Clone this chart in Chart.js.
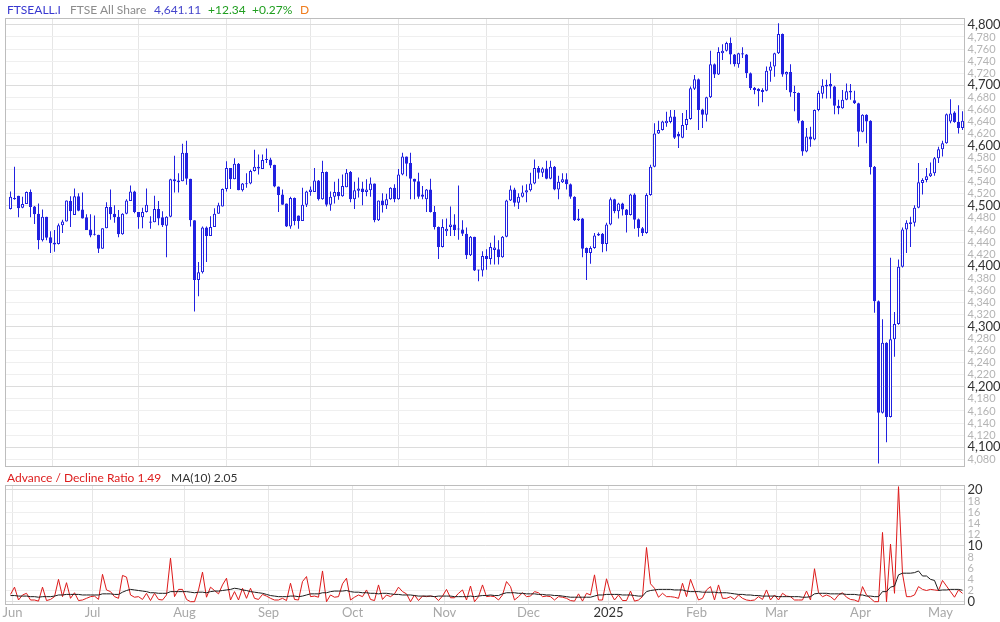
<!DOCTYPE html>
<html>
<head>
<meta charset="utf-8">
<script src="https://cdn.jsdelivr.net/npm/chart.js@4.4.1/dist/chart.umd.min.js"></script>
<style>
  body { margin: 0; background: #fff; font-family: Lato, sans-serif; }
  #wrap { position: relative; width: 1000px; height: 622px; overflow: hidden; }
  canvas { position: absolute; left: 0; }
  .lbl { position: absolute; font-size: 12px; line-height: 14px; white-space: nowrap; }
</style>
</head>
<body>
<div id="wrap">
  <canvas id="priceChart" width="1000" height="470" style="top:0"></canvas>
  <canvas id="breadthChart" width="1000" height="152" style="top:470px"></canvas>

  <span class="lbl" style="left:7px;top:3px;color:#3838d0">FTSEALL.I</span>
  <span class="lbl" style="left:70px;top:3px;color:#8c8c8c">FTSE All Share</span>
  <span class="lbl" style="left:154px;top:3px;color:#4646cc">4,641.11</span>
  <span class="lbl" style="left:208px;top:3px;color:#1f9e1f">+12.34</span>
  <span class="lbl" style="left:252px;top:3px;color:#1f9e1f">+0.27%</span>
  <span class="lbl" style="left:300px;top:3px;color:#f07d1e">D</span>

  <span class="lbl" style="left:7px;top:471px;color:#dd1c1c">Advance / Decline Ratio 1.49</span>
  <span class="lbl" style="left:171px;top:471px;color:#333">MA(10) 2.05</span>
</div>

<script>
// daily candles, 31 May 2024 .. 9 May 2025 (index = trading day)
const opens = [
  4495,4511,4517,4497,4503,4523,4499,4487,4443,4482,
  4448,4439,4437,4468,4474,4508,4485,4516,4494,4481,
  4461,4452,4452,4429,4463,4498,4487,4482,4453,4487,
  4508,4524,4490,4481,4490,4474,4473,4495,4481,4467,
  4482,4544,4542,4541,4588,4545,4476,4377,4390,4464,
  4450,4465,4487,4499,4528,4563,4544,4570,4526,4537,
  4537,4558,4562,4561,4576,4577,4568,4532,4519,4504,
  4466,4513,4484,4475,4502,4523,4523,4542,4511,4556,
  4502,4515,4523,4516,4531,4556,4511,4525,4529,4523,
  4526,4537,4476,4509,4501,4511,4530,4511,4552,4582,
  4571,4545,4541,4519,4511,4527,4490,4465,4432,4458,
  4465,4469,4461,4461,4454,4418,4449,4393,4393,4417,
  4412,4427,4428,4415,4449,4509,4527,4505,4515,4522,
  4526,4537,4563,4555,4562,4545,4565,4527,4539,4544,
  4536,4515,4476,4479,4430,4422,4430,4451,4454,4437,
  4469,4511,4491,4504,4494,4485,4519,4478,4463,4455,
  4518,4565,4620,4626,4637,4639,4648,4619,4613,4634,
  4644,4694,4710,4660,4651,4680,4735,4718,4753,4757,
  4770,4751,4735,4751,4751,4720,4696,4694,4689,4691,
  4724,4731,4753,4785,4718,4722,4689,4687,4641,4590,
  4615,4610,4659,4686,4698,4702,4698,4666,4662,4676,
  4688,4675,4670,4623,4651,4641,4565,4342,4157,4273,
  4150,4279,4304,4399,4461,4470,4472,4497,4538,4543,
  4549,4554,4579,4594,4604,4640,4655,4639,4629
];
const highs = [
  4524,4565,4517,4515,4524,4527,4500,4504,4494,4482,
  4458,4460,4471,4477,4509,4516,4529,4521,4522,4486,
  4486,4484,4452,4463,4506,4527,4501,4493,4488,4511,
  4534,4525,4490,4497,4529,4483,4517,4508,4491,4483,
  4545,4583,4554,4603,4608,4545,4476,4407,4466,4466,
  4483,4496,4505,4529,4574,4563,4579,4571,4538,4554,
  4560,4593,4585,4585,4595,4580,4568,4532,4527,4504,
  4515,4514,4484,4530,4525,4532,4563,4543,4575,4557,
  4524,4540,4545,4552,4561,4558,4540,4547,4540,4544,
  4547,4537,4509,4521,4520,4531,4536,4561,4588,4582,
  4588,4545,4555,4533,4528,4545,4500,4466,4478,4479,
  4499,4486,4534,4476,4464,4450,4449,4394,4425,4428,
  4439,4451,4443,4450,4510,4534,4530,4521,4534,4536,
  4555,4577,4566,4564,4575,4575,4566,4550,4554,4554,
  4537,4516,4495,4480,4431,4433,4455,4456,4455,4472,
  4514,4512,4505,4505,4495,4520,4521,4479,4465,4521,
  4568,4637,4641,4641,4656,4659,4659,4623,4654,4659,
  4698,4717,4711,4661,4681,4757,4736,4763,4768,4772,
  4779,4752,4754,4763,4752,4721,4697,4695,4695,4731,
  4739,4754,4803,4786,4723,4735,4699,4688,4642,4629,
  4631,4660,4691,4710,4709,4720,4699,4676,4692,4703,
  4702,4691,4671,4652,4652,4642,4566,4343,4312,4274,
  4414,4324,4411,4464,4476,4482,4501,4571,4546,4563,
  4572,4581,4598,4608,4653,4677,4657,4667,4657
];
const lows = [
  4494,4510,4481,4496,4503,4481,4470,4428,4441,4443,
  4422,4424,4436,4455,4474,4465,4485,4491,4479,4460,
  4448,4451,4422,4429,4463,4477,4472,4448,4452,4486,
  4508,4488,4462,4463,4489,4462,4473,4468,4465,4415,
  4481,4522,4522,4541,4535,4466,4325,4350,4388,4407,
  4450,4465,4487,4499,4524,4528,4544,4526,4524,4530,
  4536,4557,4552,4561,4571,4563,4531,4490,4502,4465,
  4462,4468,4462,4475,4498,4517,4523,4509,4510,4499,
  4492,4504,4510,4515,4531,4506,4495,4514,4501,4516,
  4515,4473,4475,4489,4495,4510,4506,4510,4551,4549,
  4511,4511,4512,4511,4490,4489,4461,4412,4431,4450,
  4450,4450,4444,4450,4412,4417,4392,4375,4383,4394,
  4403,4403,4403,4414,4448,4508,4499,4495,4514,4506,
  4524,4536,4545,4548,4544,4544,4526,4511,4538,4527,
  4512,4475,4475,4415,4377,4404,4429,4450,4423,4425,
  4468,4488,4479,4484,4456,4484,4462,4449,4450,4454,
  4517,4564,4619,4625,4631,4637,4611,4596,4612,4626,
  4643,4692,4626,4629,4640,4679,4712,4717,4742,4756,
  4735,4731,4729,4745,4712,4692,4685,4665,4672,4690,
  4706,4714,4752,4714,4692,4681,4657,4637,4583,4589,
  4598,4609,4657,4678,4678,4678,4652,4652,4661,4675,
  4676,4669,4598,4622,4604,4552,4323,4073,4156,4108,
  4149,4250,4303,4398,4422,4432,4466,4496,4519,4539,
  4548,4550,4571,4582,4603,4637,4638,4620,4626
];
const closes = [
  4515,4513,4496,4503,4523,4498,4486,4443,4482,4447,
  4438,4436,4468,4474,4509,4491,4516,4492,4479,4460,
  4451,4452,4429,4463,4498,4486,4481,4453,4487,4509,
  4524,4490,4481,4490,4502,4472,4495,4479,4468,4482,
  4544,4541,4539,4588,4545,4476,4377,4390,4464,4450,
  4465,4487,4501,4528,4563,4544,4570,4526,4537,4536,
  4558,4565,4565,4576,4577,4567,4532,4518,4502,4466,
  4513,4475,4475,4502,4524,4527,4542,4511,4556,4502,
  4515,4523,4516,4533,4555,4511,4526,4529,4523,4527,
  4537,4476,4509,4501,4511,4530,4511,4552,4582,4570,
  4545,4540,4515,4515,4527,4490,4465,4432,4465,4462,
  4469,4460,4461,4454,4418,4449,4393,4393,4417,4412,
  4432,4431,4415,4449,4509,4527,4505,4515,4522,4526,
  4537,4563,4555,4562,4545,4565,4527,4540,4544,4536,
  4515,4476,4479,4429,4422,4430,4451,4454,4437,4469,
  4511,4491,4504,4494,4485,4519,4477,4463,4455,4518,
  4565,4620,4626,4640,4641,4648,4613,4615,4634,4644,
  4695,4710,4659,4651,4680,4735,4718,4755,4757,4770,
  4751,4735,4753,4753,4720,4695,4692,4690,4692,4724,
  4731,4753,4785,4718,4722,4688,4687,4641,4590,4615,
  4610,4659,4687,4699,4701,4698,4666,4662,4676,4690,
  4691,4670,4623,4651,4640,4564,4342,4157,4273,4150,
  4279,4304,4399,4461,4472,4473,4497,4539,4543,4549,
  4554,4579,4594,4604,4652,4653,4639,4629,4641
];

// advance / decline ratio and its 10 day average
const adRatio = [
  1.3,2.6,0.3,1.2,1.5,0.3,0.3,0.1,2.6,0.2,
  0.4,0.9,4.0,0.9,3.4,0.6,1.6,0.2,0.3,0.6,
  0.9,1.0,0.4,4.9,2.1,1.8,0.9,0.6,4.7,4.4,
  1.2,0.8,0.9,0.4,1.5,0.2,1.5,0.4,0.3,1.2,
  7.8,0.9,2.2,2.2,0.4,0.0,0.0,2.1,5.3,0.8,
  2.6,2.0,1.4,3.0,4.2,0.3,1.8,0.3,2.4,0.6,
  2.4,0.6,0.4,1.3,1.0,0.6,0.3,0.3,0.6,0.2,
  3.3,0.4,0.3,3.6,4.5,0.9,1.0,0.8,5.5,0.0,
  1.2,0.8,0.9,3.2,4.2,0.3,0.8,1.2,0.9,2.1,
  0.4,0.2,3.0,0.4,1.2,0.9,1.4,2.6,1.8,1.4,
  0.0,1.2,0.2,1.0,0.9,1.0,0.9,0.2,1.0,2.2,
  0.7,0.7,1.5,2.1,0.3,2.8,0.0,0.9,3.0,0.9,
  1.0,0.9,0.3,1.2,3.6,2.7,0.3,0.9,1.6,0.9,
  1.0,1.8,1.6,0.9,1.0,0.9,0.3,0.9,0.8,0.6,
  0.2,0.1,1.4,0.1,1.5,1.2,4.8,0.3,0.3,4.1,
  1.6,0.3,1.2,0.2,0.2,1.9,0.1,0.3,0.9,9.7,
  3.2,2.4,0.8,1.5,0.9,0.9,0.8,0.6,3.3,0.9,
  4.0,2.1,0.3,0.6,2.1,2.7,0.3,3.0,0.6,0.6,
  0.9,0.4,1.2,0.6,0.3,0.2,0.3,0.9,0.4,2.1,
  0.3,1.2,0.3,1.5,1.0,0.9,0.3,0.3,0.3,1.9,
  0.3,5.9,1.6,0.9,1.2,0.9,0.3,1.2,1.6,0.8,
  0.4,0.3,0.0,2.7,1.2,0.6,0.0,0.0,12.4,0.0,
  10.3,1.5,20.6,5.0,0.9,0.9,1.2,2.7,2.2,2.0,
  2.2,2.1,2.0,3.8,2.8,1.8,0.8,2.1,1.49
];
const adMA10 = [
  1.1,1.1,1.0,1.0,1.0,0.9,0.9,0.8,0.9,0.9,
  0.9,1.0,1.2,1.2,1.3,1.3,1.3,1.3,1.2,1.2,
  1.2,1.2,1.2,1.4,1.4,1.4,1.3,1.3,1.7,2.0,
  2.2,2.1,2.0,1.9,1.8,1.6,1.6,1.5,1.5,1.5,
  1.8,1.8,1.8,1.8,1.8,1.7,1.6,1.7,1.7,1.6,
  1.8,1.9,1.9,2.0,2.1,2.2,2.4,2.3,2.1,2.0,
  1.8,1.7,1.6,1.5,1.3,1.1,1.0,0.9,0.9,0.9,
  1.0,1.0,0.9,1.0,1.2,1.4,1.4,1.4,1.6,1.6,
  1.8,1.9,1.9,1.9,2.0,1.8,1.7,1.7,1.6,1.6,
  1.5,1.5,1.4,1.5,1.5,1.4,1.3,1.3,1.2,1.2,
  1.2,1.1,1.0,1.0,1.0,1.0,0.9,1.0,1.0,1.0,
  1.0,0.9,0.9,0.9,0.9,1.0,0.9,1.0,1.1,1.1,
  1.2,1.1,1.1,1.4,1.6,1.6,1.6,1.5,1.5,1.4,
  1.4,1.4,1.3,1.3,1.2,1.2,1.1,1.1,1.0,0.9,
  0.8,0.8,0.8,0.8,0.8,0.8,1.0,1.2,1.2,1.3,
  1.3,1.3,1.3,1.2,1.2,1.2,1.1,1.0,1.0,1.8,
  2.0,2.1,2.2,2.2,2.2,2.2,2.1,2.1,2.1,1.9,
  1.8,1.8,1.8,1.7,1.7,1.7,1.7,1.6,1.6,1.6,
  1.5,1.4,1.3,1.3,1.2,1.2,1.1,1.1,1.0,1.0,
  1.0,1.0,0.9,0.9,0.9,0.9,0.9,0.9,0.8,0.8,
  0.9,1.4,1.5,1.5,1.5,1.4,1.4,1.4,1.4,1.3,
  1.3,1.3,1.2,1.2,1.0,1.0,0.9,0.9,1.8,1.8,
  2.6,2.8,4.8,5.1,5.1,5.1,5.2,5.5,4.6,4.6,
  4.0,3.8,2.0,2.1,2.1,2.2,2.2,2.2,2.05
];

// first trading day of each month and its axis label
const monthStarts = [1, 21, 44, 65, 86, 109, 130, 150, 172, 192, 213, 233];
const monthLabels = ['Jun', 'Jul', 'Aug', 'Sep', 'Oct', 'Nov', 'Dec', '2025', 'Feb', 'Mar', 'Apr', 'May'];

const BLUE = '#2121e0';
const X_MIN = -1.25;
const X_MAX = 238.5;

Chart.defaults.font.family = 'Lato, sans-serif';
Chart.defaults.animation = false;

const boxBorder = {
  id: 'boxBorder',
  afterDraw(chart) {
    const { ctx, chartArea: a } = chart;
    ctx.save();
    ctx.strokeStyle = '#bdbdbd';
    ctx.lineWidth = 1;
    const top = Math.floor(a.top) + 0.5;
    const bottom = Math.floor(a.bottom) + 0.5;
    ctx.strokeRect(a.left, top, a.right - a.left, bottom - top);
    ctx.restore();
  },
};

const monthTicks = (scale) => {
  scale.ticks = monthStarts.map((i) => ({ value: i - 0.5 }));
};
const labelFor = (v) => monthLabels[monthStarts.indexOf(Math.round(v + 0.5))] || '';
const tickVal = (c) => (c.tick ? c.tick.value : NaN);

// keep axes from pushing the plot box around
const fitRight = (s) => { s.width = 35.5; s.paddingTop = 0; s.paddingBottom = 0; };
const fitBottom = (h) => (s) => { s.height = h; s.paddingLeft = 0; s.paddingRight = 0; };

/* price panel: wicks and bodies as floating bars */
const wicks = highs.map((h, i) => ({ x: i, y: [lows[i], h] }));
const bodies = opens.map((o, i) => ({ x: i, y: [Math.min(o, closes[i]), Math.max(o, closes[i])] }));
const isUp = (i) => closes[i] >= opens[i];

new Chart(document.getElementById('priceChart'), {
  type: 'bar',
  data: {
    datasets: [
      {
        data: bodies,
        order: 0,
        barThickness: 3,
        minBarLength: 1,
        borderWidth: 1,
        borderSkipped: false,
        inflateAmount: 0,
        borderColor: BLUE,
        backgroundColor: (c) => (isUp(c.dataIndex) ? '#ffffff' : BLUE),
      },
      {
        data: wicks,
        order: 1,
        barThickness: 1,
        minBarLength: 1,
        borderWidth: 0,
        inflateAmount: 0,
        backgroundColor: BLUE,
      },
    ],
  },
  options: {
    responsive: false,
    grouped: false,
    layout: { padding: { left: 5.5, top: 18.3, right: 0, bottom: 3.3 } },
    plugins: { legend: { display: false }, tooltip: { enabled: false } },
    scales: {
      x: {
        type: 'linear',
        min: X_MIN,
        max: X_MAX,
        offset: false,
        afterBuildTicks: monthTicks,
        afterFit: fitBottom(0),
        ticks: { display: false },
        grid: { color: '#e6e6e6', drawTicks: false },
        border: { display: false },
      },
      y: {
        position: 'right',
        min: 4067.6,
        max: 4811,
        afterFit: fitRight,
        ticks: {
          stepSize: 20,
          includeBounds: false,
          autoSkip: false,
          padding: 3,
          callback: (v) => v.toLocaleString('en-US'),
          color: (c) => (tickVal(c) % 100 === 0 ? '#333333' : '#b4b4b4'),
          font: (c) => ({ size: tickVal(c) % 100 === 0 ? 13 : 11 }),
        },
        grid: {
          drawTicks: false,
          color: (c) => (tickVal(c) % 100 === 0 ? '#dcdcdc' : '#efefef'),
        },
        border: { display: false },
      },
    },
  },
  plugins: [boxBorder],
});

/* breadth panel */
new Chart(document.getElementById('breadthChart'), {
  type: 'line',
  data: {
    datasets: [
      {
        data: adMA10.map((v, i) => ({ x: i, y: v })),
        order: 0,
        borderColor: '#1c1c1c',
        borderWidth: 1,
        pointRadius: 0,
      },
      {
        data: adRatio.map((v, i) => ({ x: i, y: v })),
        order: 1,
        borderColor: '#dd1a1a',
        borderWidth: 1,
        pointRadius: 0,
      },
    ],
  },
  options: {
    responsive: false,
    layout: { padding: { left: 5.5, top: 15.7, right: 0, bottom: 0 } },
    plugins: { legend: { display: false }, tooltip: { enabled: false } },
    scales: {
      x: {
        type: 'linear',
        min: X_MIN,
        max: X_MAX,
        afterBuildTicks: monthTicks,
        afterFit: fitBottom(17.7),
        ticks: {
          autoSkip: false,
          maxRotation: 0,
          padding: 1,
          font: { size: 13 },
          callback: (v) => labelFor(v),
          color: (c) => (labelFor(tickVal(c)) === '2025' ? '#333333' : '#a8a8a8'),
        },
        grid: { color: '#e6e6e6', drawTicks: false },
        border: { display: false },
      },
      y: {
        position: 'right',
        min: -0.47,
        max: 20.77,
        afterFit: fitRight,
        ticks: {
          stepSize: 2,
          includeBounds: false,
          autoSkip: false,
          padding: 3,
          color: (c) => (tickVal(c) % 10 === 0 ? '#333333' : '#b4b4b4'),
          font: (c) => ({ size: tickVal(c) % 10 === 0 ? 13 : 11 }),
        },
        grid: {
          drawTicks: false,
          color: (c) => (tickVal(c) % 10 === 0 ? '#dcdcdc' : '#efefef'),
        },
        border: { display: false },
      },
    },
  },
  plugins: [boxBorder],
});
</script>
</body>
</html>
